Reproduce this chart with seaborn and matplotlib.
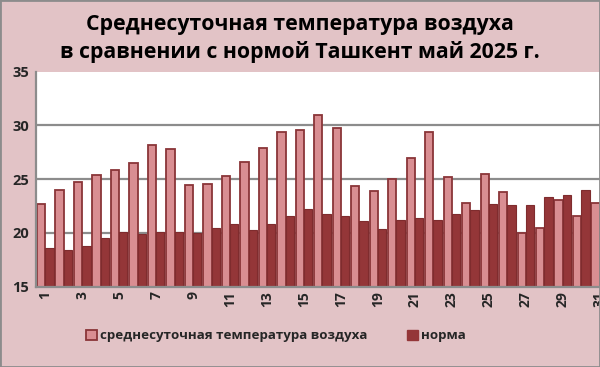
import pandas as pd
import matplotlib.pyplot as plt
import seaborn as sns
from matplotlib.patches import Patch, Rectangle

# данные: май 2025, Ташкент
days = list(range(1, 32))
temp = [22.7, 24.0, 24.7, 25.4, 25.9, 26.5, 28.2, 27.8, 24.5, 24.6,
        25.3, 26.6, 27.9, 29.4, 29.6, 31.0, 29.8, 24.4, 23.9, 25.0,
        27.0, 29.4, 25.2, 22.8, 25.5, 23.8, 20.0, 20.5, 23.1, 21.6, 22.8]
norm = [18.6, 18.4, 18.8, 19.5, 20.1, 19.9, 20.1, 20.1, 20.0, 20.5,
        20.8, 20.3, 20.8, 21.6, 22.2, 21.8, 21.6, 21.1, 20.4, 21.2,
        21.4, 21.2, 21.8, 22.1, 22.7, 22.6, 22.6, 23.3, 23.5, 24.0, 23.8]
series_names = ['среднесуточная температура воздуха', 'норма']
title = 'Среднесуточная температура воздуха\nв сравнении с нормой Ташкент май 2025 г.'

df = pd.DataFrame({'day': days * 2,
                   'value': temp + norm,
                   'series': [series_names[0]] * 31 + [series_names[1]] * 31})

sns.set_style('white')
plt.rcParams['font.family'] = ['Open Sans', 'DejaVu Sans']

bg = '#e2c3c6'
light = '#d98e92'
dark = '#943638'

fig = plt.figure(figsize=(6, 3.67), dpi=100, facecolor=bg)
ax = fig.add_axes([0.06, 0.2188, 0.955, 0.5858])
ax.set_facecolor('white')

sns.barplot(data=df, x='day', y='value', hue='series', palette=[light, dark],
            width=0.9, gap=0, ax=ax, legend=False, saturation=1)
for p in ax.patches[:31]:
    p.set_edgecolor('#8a3538')
    p.set_linewidth(1.3)
for p in ax.patches[31:62]:
    p.set_edgecolor('#7f2c2e')
    p.set_linewidth(0.8)

ax.set_ylim(15, 35)
ax.set_xlim(-0.5, 30.5)
ax.set_yticks([15, 20, 25, 30, 35])
ax.set_yticklabels(['15', '20', '25', '30', '35'], fontsize=10.5, fontweight='bold')
for y in [20, 25, 30]:
    ax.axhline(y, color='#8c8c8c', lw=1.6, zorder=0)
ax.set_xticks(range(0, 31, 2))
ax.set_xticklabels([str(d) for d in days[::2]], rotation=90, fontsize=10,
                   fontweight='bold')
ax.tick_params(axis='y', pad=5, length=0)
ax.tick_params(axis='x', pad=3, length=0)
ax.set_xlabel('')
ax.set_ylabel('')
for s in ['top', 'right']:
    ax.spines[s].set_visible(False)
ax.spines['left'].set_color('#8c8c8c')
ax.spines['bottom'].set_color('#8c8c8c')
ax.spines['left'].set_linewidth(1.6)
ax.spines['bottom'].set_linewidth(1.6)

fig.suptitle(title, y=0.963, fontsize=15.3, fontweight='bold', linespacing=1.35,
             color='black')

handles = [Patch(facecolor=light, edgecolor='#8a3538', lw=1.3),
           Patch(facecolor=dark, edgecolor=dark)]
fig.legend(handles, series_names, loc='center', bbox_to_anchor=(0.46, 0.085),
           ncol=2, frameon=False, handlelength=0.8, handleheight=0.8,
           handletextpad=0.25, columnspacing=3.0, prop={'weight': 'bold', 'size': 9.6})

fig.patches.append(Rectangle((0, 0), 1, 1, transform=fig.transFigure,
                             fill=False, edgecolor='#8c8c8c', lw=2))
fig.savefig('out.png', dpi=100, facecolor=bg)
